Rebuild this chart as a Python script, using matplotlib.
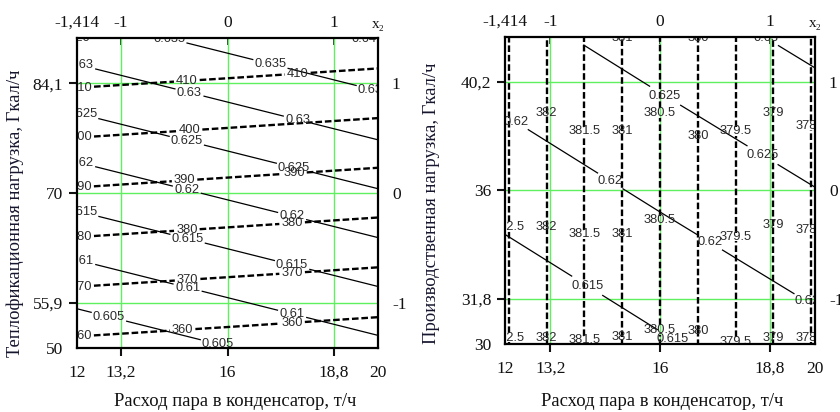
import numpy as np
import matplotlib
matplotlib.use("Agg")
import matplotlib.pyplot as plt

plt.rcParams['font.family'] = ['Liberation Serif', 'DejaVu Serif']

# ---------------- data ----------------
# left panel: x = steam flow to condenser (t/h), y = heating load (Gcal/h)
left_x = [12.0, 16.0, 20.0]
left_y = [50.0, 70.0, 90.0]
left_eta = [[0.6009, 0.6048, 0.6087],
            [0.6168, 0.6207, 0.6246],
            [0.6327, 0.6366, 0.6405]]
left_q = [[357.6, 355.7, 353.7],
          [388.9, 386.9, 384.9],
          [420.1, 418.2, 416.2]]
left_eta_levels = [0.605, 0.61, 0.615, 0.62, 0.625, 0.63, 0.635, 0.64]
left_q_levels = [360, 370, 380, 390, 400, 410, 420]

# right panel: x = steam flow to condenser (t/h), y = process load (Gcal/h)
right_x = [12.0, 16.0, 20.0]
right_y = [30.0, 36.0, 42.0]
right_eta = [[0.6103, 0.6144, 0.6184],
             [0.6168, 0.6209, 0.6249],
             [0.6233, 0.6274, 0.6314]]
right_q = [[382.57, 380.5, 378.43],
           [382.57, 380.5, 378.43],
           [382.57, 380.5, 378.43]]
right_eta_levels = [0.615, 0.62, 0.625, 0.63]
right_q_levels = [378.5, 379, 379.5, 380, 380.5, 381, 381.5, 382, 382.5]

x_ticks = [12.04, 13.2, 16, 18.8, 19.96]
x_ticklabels = ['12', '13,2', '16', '18,8', '20']
left_yticks = [50.06, 55.9, 70, 84.1]
left_yticklabels = ['50', '55,9', '70', '84,1']
right_yticks = [30.06, 31.8, 36, 40.2]
right_yticklabels = ['30', '31,8', '36', '40,2']
top_labels = ['-1,414', '-1', '0', '1', 'x\u2082']
side_labels = ['-1', '0', '1']

xlabel_text = 'Расход пара в конденсатор, т/ч'
left_ylabel = 'Теплофикационная нагрузка, Гкал/ч'
right_ylabel = 'Производственная нагрузка, Гкал/ч'

# label spots (level, x) / (level, y)
left_eta_spots = [(0.64, 19.6), (0.635, 14.47), (0.635, 17.13), (0.635, 19.85),
                  (0.63, 12.15), (0.63, 15.0), (0.63, 17.85),
                  (0.625, 12.15), (0.625, 14.93), (0.625, 17.75),
                  (0.62, 12.15), (0.62, 14.93), (0.62, 17.7),
                  (0.615, 12.15), (0.615, 14.95), (0.615, 17.7),
                  (0.61, 12.15), (0.61, 14.95), (0.61, 17.7),
                  (0.605, 12.88), (0.605, 15.75)]
left_q_spots = [(420, 12.1),
                (410, 12.15), (410, 14.93), (410, 17.85),
                (400, 12.15), (400, 15.0),
                (390, 12.15), (390, 14.87), (390, 17.75),
                (380, 12.15), (380, 14.93), (380, 17.7),
                (370, 12.15), (370, 14.95), (370, 17.7),
                (360, 12.15), (360, 14.82), (360, 17.7)]
right_eta_spots = [(0.63, 18.7), (0.625, 13.66), (0.625, 16.13), (0.625, 18.62),
                   (0.62, 12.31), (0.62, 14.73), (0.62, 17.27), (0.62, 19.75),
                   (0.615, 14.14), (0.615, 16.33)]
right_q_spots = [(382.5, 34.6), (382.5, 30.3),
                 (382, 39.0), (382, 34.6), (382, 30.3),
                 (381.5, 38.3), (381.5, 34.3), (381.5, 30.2),
                 (381, 41.9), (381, 38.3), (381, 34.3), (381, 30.35),
                 (380.5, 39.0), (380.5, 34.85), (380.5, 30.6),
                 (380, 41.9), (380, 38.1), (380, 30.55),
                 (379.5, 38.3), (379.5, 34.2), (379.5, 30.15),
                 (379, 39.0), (379, 34.66), (379, 30.3),
                 (378.5, 38.5), (378.5, 34.47), (378.5, 30.3)]


def y_on_level(xs, ys, Z, level, x):
    Z = np.asarray(Z)
    col = np.array([np.interp(x, xs, row) for row in Z])
    order = np.argsort(col)
    return float(np.interp(level, col[order], np.asarray(ys)[order]))


def x_on_level(xs, ys, Z, level, y):
    Z = np.asarray(Z)
    row = np.array([np.interp(y, ys, Z[:, j]) for j in range(Z.shape[1])])
    order = np.argsort(row)
    return float(np.interp(level, row[order], np.asarray(xs)[order]))


GREEN = '#5ef05e'
TXT = '#111111'
LBL = '#2b2b2b'
DASH = (0, (2.8, 1.2))
CL_FS = 9.3


def style_labels(cs):
    for t in cs.labelTexts:
        t.set_rotation(0)
        t.set_fontfamily(['Liberation Sans', 'DejaVu Sans'])
        t.set_color(LBL)


def setup_axes(ax, yticks, yticklabels, ylim, coded_y, ylabel, ylab_x, ylab_y, xlab_x, xlab_y):
    ax.set_xlim(12.04, 19.96)
    ax.set_ylim(*ylim)
    for xv in [13.2, 16, 18.8]:
        ax.axvline(xv, color=GREEN, lw=1.0, zorder=1)
    for yv in coded_y:
        ax.axhline(yv, color=GREEN, lw=1.0, zorder=1)
    for s in ax.spines.values():
        s.set_linewidth(1.6)
        s.set_color('black')
        s.set_zorder(5)
    ax.set_xticks(x_ticks, x_ticklabels)
    ax.set_yticks(yticks, yticklabels)
    ax.tick_params(axis='both', direction='out', length=6, width=1.5,
                   labelsize=12.5, colors=TXT)
    ax.tick_params(axis='x', pad=6)
    ax.tick_params(axis='y', pad=4)
    ax.xaxis.get_major_ticks()[0].tick1line.set_visible(False)
    ax.xaxis.get_major_ticks()[-1].tick1line.set_visible(False)
    ax.yaxis.get_major_ticks()[0].tick1line.set_visible(False)
    # coded top axis
    top = ax.secondary_xaxis('top')
    top.set_xticks(x_ticks, top_labels)
    top.tick_params(direction='in', length=5, width=1.2, labelsize=12.5,
                    pad=5, colors=TXT)
    top.get_xticklabels()[-1].set_fontsize(11)
    tks = top.xaxis.get_major_ticks()
    tks[0].tick1line.set_visible(False)
    tks[-1].tick1line.set_visible(False)
    for s in top.spines.values():
        s.set_visible(False)
    # coded right axis
    rt = ax.secondary_yaxis('right')
    rt.set_yticks(coded_y, side_labels)
    rt.tick_params(length=0, labelsize=12.5, pad=10, colors=TXT)
    for s in rt.spines.values():
        s.set_visible(False)
    ax.set_xlabel(xlabel_text, fontsize=13.4, color=TXT)
    ax.xaxis.set_label_coords(xlab_x, xlab_y)
    ax.xaxis.label.set_va('center')
    ax.set_ylabel(ylabel, fontsize=13.4, color='#15152e')
    ax.yaxis.set_label_coords(ylab_x, ylab_y)
    ax.yaxis.label.set_va('center')


fig = plt.figure(figsize=(8.4, 4.12), dpi=100)
axL = fig.add_axes([77 / 840, 1 - 348 / 412, 301 / 840, 310 / 412])
axR = fig.add_axes([505 / 840, 1 - 344 / 412, 310 / 840, 307 / 412])

# ---------- left panel ----------
XL, YL = np.meshgrid(left_x, left_y)
csLe = axL.contour(XL, YL, np.asarray(left_eta), levels=left_eta_levels,
                   colors='black', linewidths=0.9, zorder=3)
csLq = axL.contour(XL, YL, np.asarray(left_q), levels=left_q_levels,
                   colors='black', linewidths=1.7, zorder=3)
csLq.set_linestyle(DASH)
axL.clabel(csLe, fmt='%g', fontsize=CL_FS, inline=True, inline_spacing=3,
           manual=[(x, y_on_level(left_x, left_y, left_eta, lv, x)) for lv, x in left_eta_spots])
axL.clabel(csLq, fmt='%g', fontsize=CL_FS, inline=True, inline_spacing=3,
           manual=[(x, y_on_level(left_x, left_y, left_q, lv, x)) for lv, x in left_q_spots])
style_labels(csLe)
style_labels(csLq)
setup_axes(axL, left_yticks, left_yticklabels, (50.06, 89.94), [55.9, 70, 84.1],
           left_ylabel, (15 - 77) / 301, (348 - 213) / 310, (235 - 77) / 301, (348 - 402) / 310)

# ---------- right panel ----------
XR, YR = np.meshgrid(right_x, right_y)
csRe = axR.contour(XR, YR, np.asarray(right_eta), levels=right_eta_levels,
                   colors='black', linewidths=0.9, zorder=3)
csRq = axR.contour(XR, YR, np.asarray(right_q), levels=right_q_levels,
                   colors='black', linewidths=1.7, zorder=3)
csRq.set_linestyle(DASH)
axR.clabel(csRe, fmt='%g', fontsize=CL_FS, inline=True, inline_spacing=3,
           manual=[(x, y_on_level(right_x, right_y, right_eta, lv, x)) for lv, x in right_eta_spots])
axR.clabel(csRq, fmt='%g', fontsize=CL_FS, inline=True, inline_spacing=-10,
           manual=[(x_on_level(right_x, right_y, right_q, lv, y), y) for lv, y in right_q_spots])
style_labels(csRe)
style_labels(csRq)
setup_axes(axR, right_yticks, right_yticklabels, (30.06, 41.94), [31.8, 36, 40.2],
           right_ylabel, (432 - 505) / 310, (344 - 203) / 307, (662 - 505) / 310, (344 - 402) / 307)

fig.savefig('out.png', dpi=100)
